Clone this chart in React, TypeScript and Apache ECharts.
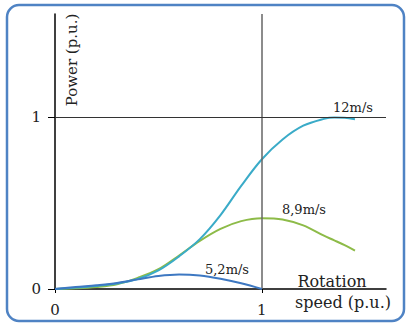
import React, { useEffect, useRef } from "react";
import * as echarts from "echarts";

const speedX = [0, 0.1, 0.2, 0.3, 0.4, 0.5, 0.6, 0.7, 0.8, 0.9, 1.0, 1.1, 1.2, 1.3, 1.35, 1.4, 1.45];
const power12 = [0, 0.008, 0.018, 0.032, 0.058, 0.108, 0.19, 0.29, 0.43, 0.6, 0.755, 0.87, 0.95, 0.99, 0.998, 0.996, 0.988];
const power89 = [0, 0.004, 0.012, 0.028, 0.065, 0.115, 0.195, 0.28, 0.35, 0.395, 0.412, 0.405, 0.37, 0.31, 0.283, 0.255, 0.223];
const speedLow = [0, 0.1, 0.2, 0.3, 0.4, 0.5, 0.6, 0.7, 0.8, 0.9, 1.0];
const power52 = [0, 0.012, 0.022, 0.035, 0.056, 0.076, 0.085, 0.079, 0.06, 0.033, 0];
const xTicks = ["0", "1"];
const yTicks = ["0", "1"];
const curveNames = ["12m/s", "8,9m/s", "5,2m/s"];

const FONT = "DejaVu Serif";

export default function App() {
  const ref = useRef<HTMLDivElement>(null);
  useEffect(() => {
    const chart = echarts.init(ref.current!, null, { renderer: "svg" });
    const pts = (xs: number[], ys: number[]) => xs.map((x, i) => [x, ys[i]]);
    chart.setOption({
      animation: false,
      grid: { left: 55, right: 21, top: 14, bottom: 35 },
      xAxis: {
        type: "value",
        min: 0,
        max: 1.6,
        interval: 1,
        axisLine: { lineStyle: { color: "#000", width: 1.5 } },
        axisTick: { show: true, length: 4, lineStyle: { color: "#000" } },
        axisLabel: {
          fontFamily: FONT,
          fontSize: 15,
          color: "#222",
          margin: 13,
          showMaxLabel: false,
          formatter: (v: number) => (v === 0 ? xTicks[0] : v === 1 ? xTicks[1] : ""),
        },
        splitLine: { show: false },
      },
      yAxis: {
        type: "value",
        min: 0,
        max: 1.6,
        interval: 1,
        axisLine: { show: true, onZero: false, lineStyle: { color: "#000", width: 1.5 } },
        axisTick: { show: true, length: 7, lineStyle: { color: "#000" } },
        axisLabel: {
          fontFamily: FONT,
          fontSize: 15,
          color: "#222",
          margin: 14,
          showMaxLabel: false,
          formatter: (v: number) => (v === 0 ? yTicks[0] : v === 1 ? yTicks[1] : ""),
        },
        splitLine: { show: false },
      },
      series: [
        {
          type: "line",
          name: curveNames[1],
          data: pts(speedX, power89),
          smooth: 0.35,
          symbol: "none",
          lineStyle: { color: "#8dbb48", width: 2 },
          z: 3,
          markLine: {
            silent: true,
            symbol: "none",
            label: { show: false },
            data: [
              { xAxis: 1, lineStyle: { color: "#666", width: 1.5, type: "solid" } },
              { yAxis: 1, lineStyle: { color: "#333", width: 1.2, type: "solid" } },
            ],
          },
        },
        {
          type: "line",
          name: curveNames[0],
          data: pts(speedX, power12),
          smooth: 0.35,
          symbol: "none",
          lineStyle: { color: "#3aabc8", width: 2 },
          z: 4,
        },
        {
          type: "line",
          name: curveNames[2],
          data: pts(speedLow, power52),
          smooth: 0.35,
          symbol: "none",
          lineStyle: { color: "#3d78c2", width: 2 },
          z: 5,
        },
      ],
      graphic: [
        {
          type: "rect",
          shape: { x: 7, y: 5, width: 397, height: 316, r: 12 },
          style: { fill: "none", stroke: "#4f83c4", lineWidth: 2.5 },
          silent: true,
        },
        {
          type: "text",
          x: 72,
          y: 60,
          rotation: Math.PI / 2,
          style: { text: "Power (p.u.)", fontFamily: FONT, fontSize: 15, fill: "#222", align: "center", verticalAlign: "middle" },
        },
        {
          type: "text",
          x: 353,
          y: 107,
          style: { text: curveNames[0], fontFamily: FONT, fontSize: 13, fill: "#222", align: "center", verticalAlign: "middle" },
        },
        {
          type: "text",
          x: 304,
          y: 209,
          style: { text: curveNames[1], fontFamily: FONT, fontSize: 13, fill: "#222", align: "center", verticalAlign: "middle" },
        },
        {
          type: "text",
          x: 227,
          y: 269,
          style: { text: curveNames[2], fontFamily: FONT, fontSize: 13, fill: "#222", align: "center", verticalAlign: "middle" },
        },
        {
          type: "text",
          x: 332,
          y: 281,
          style: { text: "Rotation", fontFamily: FONT, fontSize: 16, fill: "#222", align: "center", verticalAlign: "middle" },
        },
        {
          type: "text",
          x: 343,
          y: 302,
          style: { text: "speed (p.u.)", fontFamily: FONT, fontSize: 16, fill: "#222", align: "center", verticalAlign: "middle" },
        },
      ],
    });
    return () => chart.dispose();
  }, []);
  return <div ref={ref} style={{ position: "fixed", left: 0, top: 0, width: 407, height: 324, background: "#fff" }} />;
}
